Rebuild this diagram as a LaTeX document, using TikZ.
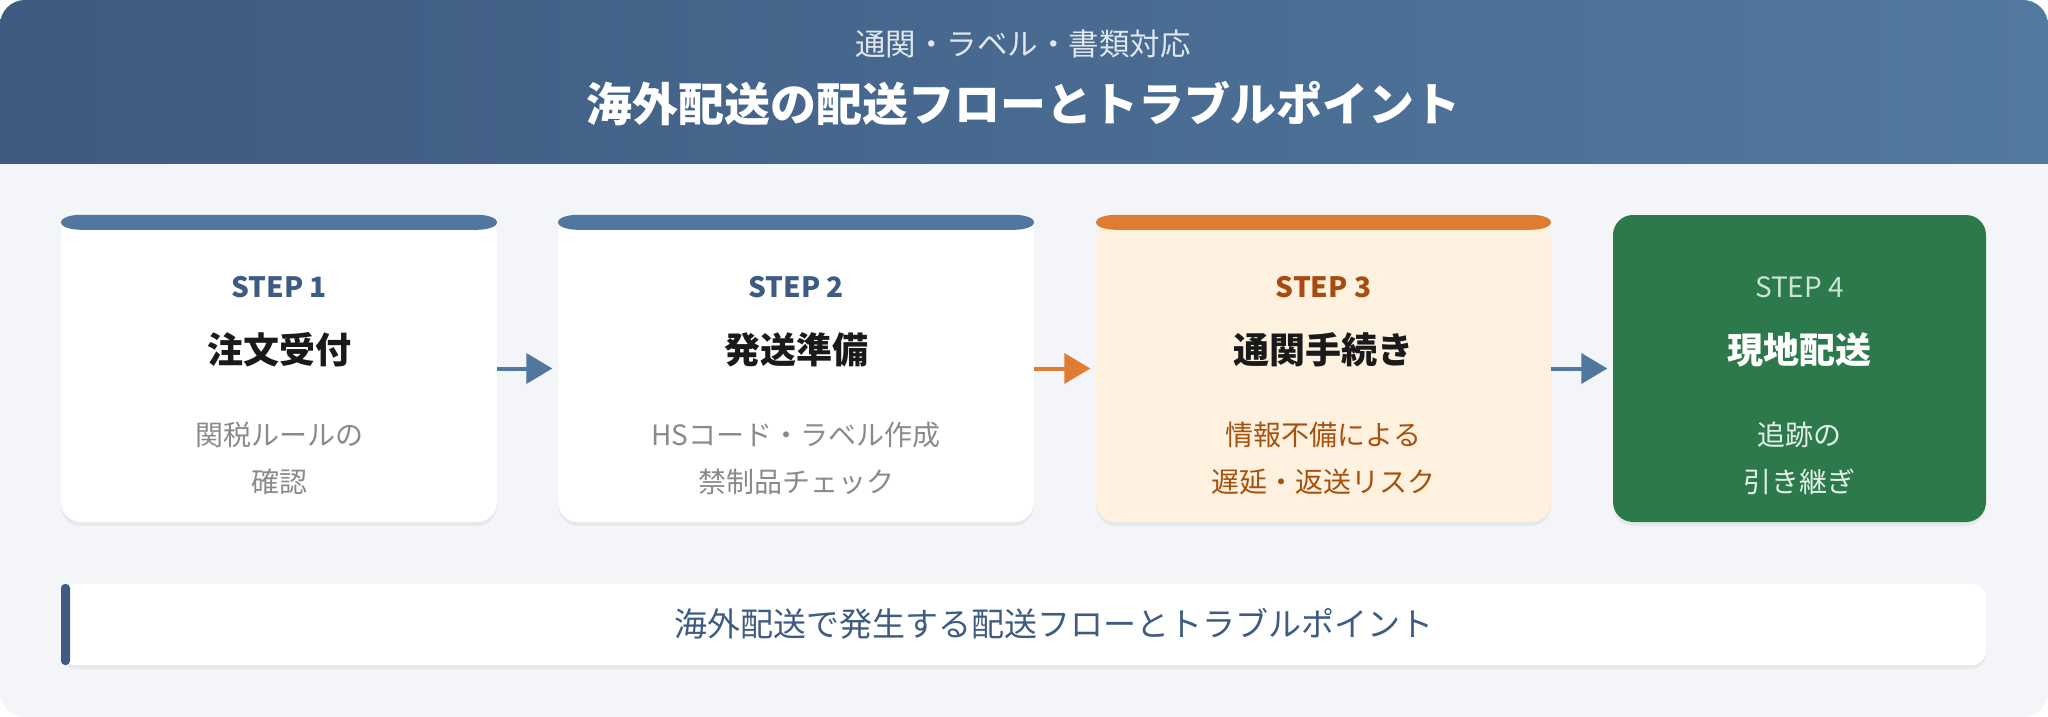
\documentclass[tikz,border=0pt]{standalone}
\usepackage{fontspec}
\setmainfont{Noto Sans CJK JP}
\usetikzlibrary{arrows.meta,shadows}
\definecolor{bgc}{HTML}{F3F5F9}
\definecolor{hdl}{HTML}{3E5A80}
\definecolor{hdr}{HTML}{5279A0}
\definecolor{stepblue}{HTML}{52779E}
\definecolor{stepink}{HTML}{3E5B85}
\definecolor{descgray}{HTML}{8A8A8A}
\definecolor{ink}{HTML}{1A1A1A}
\definecolor{cream}{HTML}{FFF1DF}
\definecolor{orng}{HTML}{E07B32}
\definecolor{brn}{HTML}{A84B0E}
\definecolor{brnl}{HTML}{A5520F}
\definecolor{grn}{HTML}{2C7A4B}
\definecolor{grnl}{HTML}{CBE3D4}
\definecolor{grnd}{HTML}{E2F0E7}
\definecolor{navy}{HTML}{3E5B82}
\tikzset{sh/.style={drop shadow={shadow xshift=0pt,shadow yshift=-4pt,fill=black,opacity=0.05}}}
\tikzset{card/.style={rounded corners=20pt, inner sep=0pt, minimum height=307pt, sh}}
\tikzset{stp/.style={font=\fontsize{28}{34}\selectfont\bfseries}}
\tikzset{ttl/.style={font=\fontsize{36}{44}\selectfont\bfseries, text=ink}}
\tikzset{dsc/.style={align=center, font=\fontsize{28}{47}\selectfont}}
\tikzset{arr/.style={line width=4pt, -{Triangle[length=26pt,width=30pt]}, shorten >=5.5pt}}
% coloured cap on top of a card
\newcommand{\capbar}[2]{\fill[#2] ([xshift=20pt]#1.north west) -- ([xshift=-20pt]#1.north east)
  arc[start angle=90,end angle=-90,x radius=20pt,y radius=7.5pt]
  -- ([xshift=20pt,yshift=-15pt]#1.north west)
  arc[start angle=270,end angle=90,x radius=20pt,y radius=7.5pt] -- cycle;}
\begin{document}
\begin{tikzpicture}[x=1pt,y=-1pt]
\useasboundingbox (0,0) rectangle (2048,717);
% background + header
\fill[bgc, rounded corners=25pt] (0,0) rectangle (2048,717);
\begin{scope}
  \clip[rounded corners=25pt] (0,0) rectangle (2048,717);
  \shade[left color=hdl, right color=hdr] (0,0) rectangle (2048,163);
\end{scope}
\node[text=white!82!hdr, font=\fontsize{30.5}{36}\selectfont] (sub) at (1023,44) {通関・ラベル・書類対応};
\node[text=white, font=\fontsize{46}{54}\selectfont\bfseries] (head) at (1023,104) {海外配送の配送フローとトラブルポイント};

% step 1
\node[card, fill=white, minimum width=436pt] (c1) at (279,368.5) {};
\capbar{c1}{stepblue}
\node[stp, text=stepink] (s1) at (279,287) {STEP 1};
\node[ttl] (t1) at (279,350) {注文受付};
\node[dsc, text=descgray] (d1) at (279,458) {関税ルールの\\確認};

% step 2
\node[card, fill=white, minimum width=476pt] (c2) at (796,368.5) {};
\capbar{c2}{stepblue}
\node[stp, text=stepink] (s2) at (796,287) {STEP 2};
\node[ttl] (t2) at (796,350) {発送準備};
\node[dsc, text=descgray] (d2) at (796,458) {HSコード・ラベル作成\\禁制品チェック};

% step 3
\node[card, fill=cream, minimum width=455pt] (c3) at (1323.5,368.5) {};
\capbar{c3}{orng}
\node[stp, text=brn] (s3) at (1323.5,287) {STEP 3};
\node[ttl] (t3) at (1323.5,350) {通関手続き};
\node[dsc, text=brnl] (d3) at (1323.5,458) {情報不備による\\遅延・返送リスク};

% step 4
\node[card, fill=grn, minimum width=373pt] (c4) at (1799.5,368.5) {};
\node[font=\fontsize{28}{34}\selectfont, text=grnl] (s4) at (1799.5,287) {STEP 4};
\node[ttl, text=white] (t4) at (1799.5,350) {現地配送};
\node[dsc, text=grnd] (d4) at (1799.5,458) {追跡の\\引き継ぎ};

\draw[arr, stepblue] (c1) -- (c2);
\draw[arr, orng] (c2) -- (c3);
\draw[arr, stepblue] (c3) -- (c4);

% note
\node[fill=white, rounded corners=14pt, minimum width=1925pt, minimum height=81pt, inner sep=0pt, sh] (note) at (1023.5,624.5) {};
\fill[navy, rounded corners=4pt] (61,584) rectangle (70,665);
\node[text=navy, font=\fontsize{33}{38}\selectfont] (nt) at (1054,624) {海外配送で発生する配送フローとトラブルポイント};
\end{tikzpicture}
\end{document}
